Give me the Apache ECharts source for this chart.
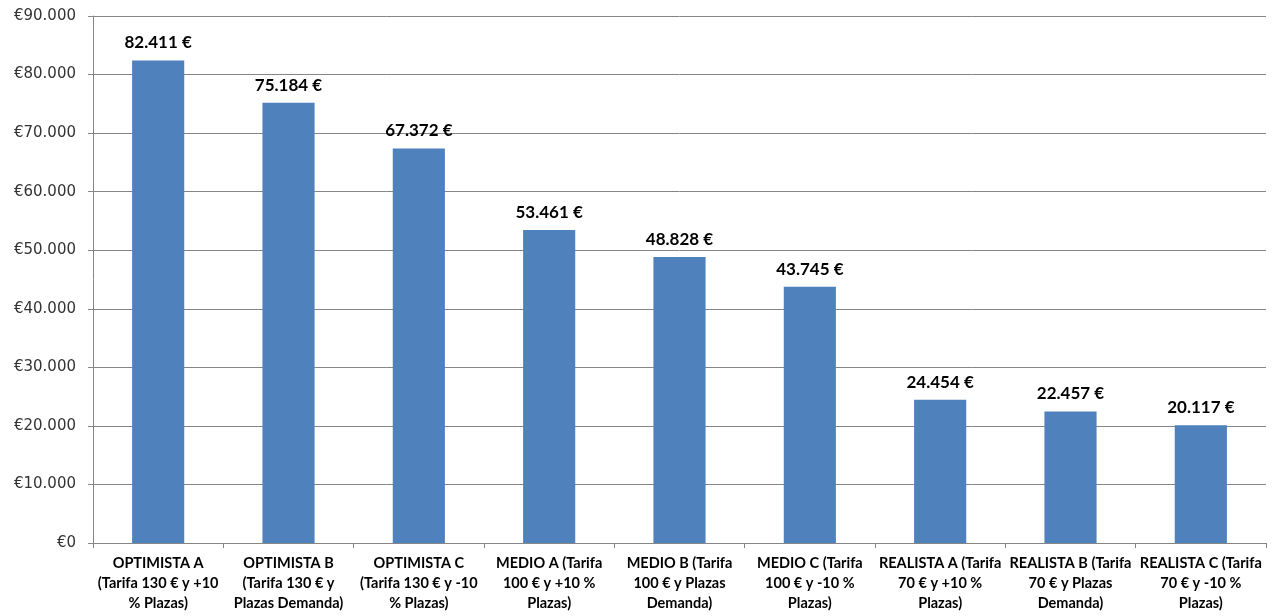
<!DOCTYPE html>
<html>
<head>
<meta charset="utf-8">
<script src="https://cdn.jsdelivr.net/npm/echarts@6/dist/echarts.min.js"></script>
<style>
  html, body { margin: 0; padding: 0; background: #fff; }
  #chart { width: 1279px; height: 616px; }
</style>
</head>
<body>
<div id="chart"></div>
<script>
// Escenarios de ingresos
const categories = [
  'OPTIMISTA A\n(Tarifa 130 € y +10\n% Plazas)',
  'OPTIMISTA B\n(Tarifa 130 € y\nPlazas Demanda)',
  'OPTIMISTA C\n(Tarifa 130 € y -10\n% Plazas)',
  'MEDIO A (Tarifa\n100 € y +10 %\nPlazas)',
  'MEDIO B (Tarifa\n100 € y Plazas\nDemanda)',
  'MEDIO C (Tarifa\n100 € y -10 %\nPlazas)',
  'REALISTA A (Tarifa\n70 € y +10 %\nPlazas)',
  'REALISTA B (Tarifa\n70 € y Plazas\nDemanda)',
  'REALISTA C (Tarifa\n70 € y -10 %\nPlazas)'
];
const ingresos = [82411, 75184, 67372, 53461, 48828, 43745, 24454, 22457, 20117];
const yMin = 0, yMax = 90000, yStep = 10000;

// Separador de miles con punto
function miles(v) {
  return String(Math.round(v)).replace(/\B(?=(\d{3})+(?!\d))/g, '.');
}

const chart = echarts.init(document.getElementById('chart'));
chart.setOption({
  animation: false,
  grid: { left: 93, right: 13, top: 16, bottom: 73 },
  xAxis: {
    type: 'category',
    data: categories,
    axisLine: { lineStyle: { color: '#868686', width: 1 } },
    axisTick: { show: true, length: 5, alignWithLabel: false, lineStyle: { color: '#868686' } },
    axisLabel: {
      interval: 0,
      margin: 10,
      color: '#000',
      fontFamily: 'Lato',
      fontWeight: 'bold',
      fontSize: 14.5,
      lineHeight: 20
    }
  },
  yAxis: {
    type: 'value',
    min: yMin,
    max: yMax,
    interval: yStep,
    axisLine: { show: true, lineStyle: { color: '#868686', width: 1 } },
    axisTick: { show: true, length: 5, lineStyle: { color: '#868686' } },
    splitLine: { lineStyle: { color: '#868686', width: 1 } },
    axisLabel: {
      margin: 17,
      color: '#333',
      fontFamily: 'DejaVu Sans',
      fontSize: 15,
      formatter: v => '€' + miles(v)
    }
  },
  series: [{
    type: 'bar',
    data: ingresos,
    barWidth: '40%',
    itemStyle: { color: '#4F81BD' },
    label: {
      show: true,
      position: 'top',
      distance: 9,
      color: '#000',
      fontFamily: 'Lato',
      fontWeight: 'bold',
      fontSize: 17,
      formatter: p => miles(p.value) + ' €'
    }
  }]
});
</script>
</body>
</html>
